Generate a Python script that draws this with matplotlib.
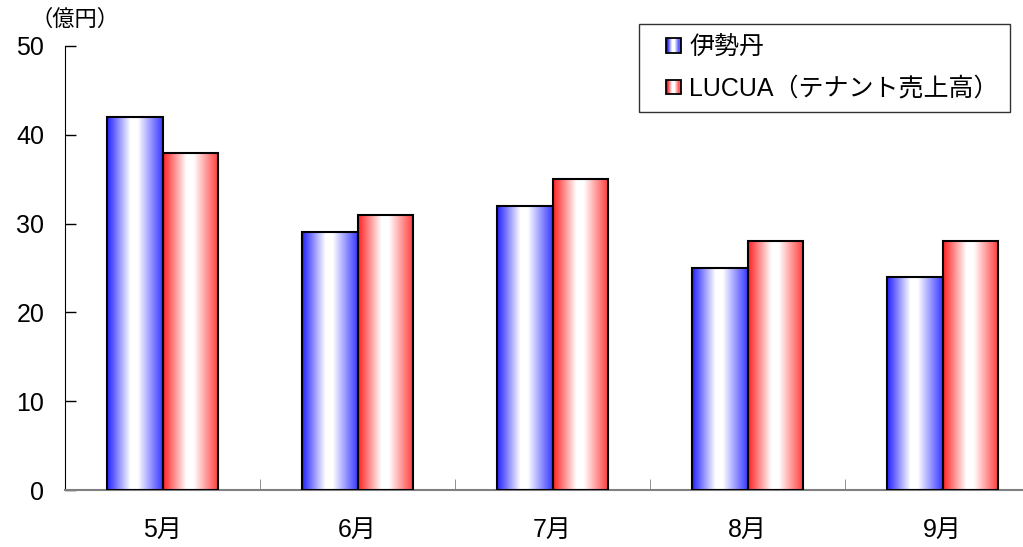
import numpy as np
import matplotlib
matplotlib.use("Agg")
import matplotlib.pyplot as plt
from matplotlib.patches import Rectangle
from matplotlib.legend_handler import HandlerBase

plt.rcParams['font.family'] = ['Liberation Sans', 'Noto Sans CJK JP', 'DejaVu Sans']

months = ['5月', '6月', '7月', '8月', '9月']
isetan = [42, 29, 32, 25, 24]
lucua = [38, 31, 35, 28, 28]
series_names = ['伊勢丹', 'LUCUA（テナント売上高）']
series_colors = [(0.13, 0.13, 1.0), (1.0, 0.13, 0.13)]

bar_w = 0.283


def gradient_row(color, n=200):
    # colour at the edges, white a bit past the middle
    t = np.linspace(0, 1, n)
    s = np.interp(t, [0, 0.42, 0.55, 1], [1, 0, 0, 0.9])
    c = np.array(color)
    rgb = (1 - s)[:, None] * 1.0 + s[:, None] * c[None, :]
    return rgb[None, :, :]


class GradientHandler(HandlerBase):
    def __init__(self, color):
        super().__init__()
        self.color = color

    def create_artists(self, legend, orig_handle, xdescent, ydescent,
                       width, height, fontsize, trans):
        side = 10.5
        x0 = -xdescent + width - side - 1.5
        y0 = -ydescent + (height - side) / 2
        row = gradient_row(self.color, 12)[0]
        arts = []
        for i, c in enumerate(row):
            arts.append(Rectangle((x0 + i * side / 12, y0), side / 12 + 0.3, side,
                                  facecolor=c, edgecolor='none', transform=trans))
        arts.append(Rectangle((x0, y0), side, side, facecolor='none',
                              edgecolor='black', lw=1.3, transform=trans))
        return arts


fig = plt.figure(figsize=(10.23, 5.47), dpi=100)
ax = fig.add_axes([65 / 1023, 57 / 547, 975 / 1023, 444 / 547])

x = np.arange(len(months))
handles = []
for k, (vals, col) in enumerate([(isetan, series_colors[0]), (lucua, series_colors[1])]):
    offs = (k - 1) * bar_w
    bars = ax.bar(x + offs, vals, width=bar_w, align='edge', facecolor='none',
                  edgecolor='black', lw=1.5, zorder=3)
    handles.append(bars)
    for b in bars:
        bx, by = b.get_x(), b.get_y()
        im = ax.imshow(gradient_row(col), extent=(bx, bx + b.get_width(), by, by + b.get_height()),
                       aspect='auto', interpolation='bilinear', zorder=2)
        im.set_clip_path(b)

ax.set_xlim(-0.5, len(months) - 0.5)
ax.set_ylim(0, 50)
ax.set_aspect('auto')

ax.set_yticks(range(0, 51, 10))
ax.tick_params(axis='y', direction='in', length=8, width=1, labelsize=18, pad=15)
ax.set_xticks(x)
ax.set_xticklabels(months, fontsize=18)
ax.set_xticks(np.arange(0.5, len(months) - 0.5), minor=True)
ax.tick_params(axis='x', which='major', length=0, pad=20)
ax.tick_params(axis='x', which='minor', direction='in', length=8, color='#808080')

for s in ['top', 'right']:
    ax.spines[s].set_visible(False)
ax.spines['bottom'].set_color('#808080')
ax.spines['bottom'].set_linewidth(1.5)
ax.spines['left'].set_color('black')

fig.text(75 / 1023, 1 - 20 / 547, '（億円）', fontsize=16, va='center', ha='center')

leg = ax.legend(handles, series_names, loc='upper right', bbox_to_anchor=(1010 / 1023, 1 - 24 / 547),
                bbox_transform=fig.transFigure, fontsize=18, frameon=True, fancybox=False,
                edgecolor='black', handler_map={handles[0]: GradientHandler(series_colors[0]),
                                                handles[1]: GradientHandler(series_colors[1])},
                handlelength=1.3, handletextpad=0.25, borderpad=0.45, labelspacing=0.7,
                borderaxespad=0)
leg.get_frame().set_linewidth(1.0)

fig.savefig('out.png', dpi=100)
